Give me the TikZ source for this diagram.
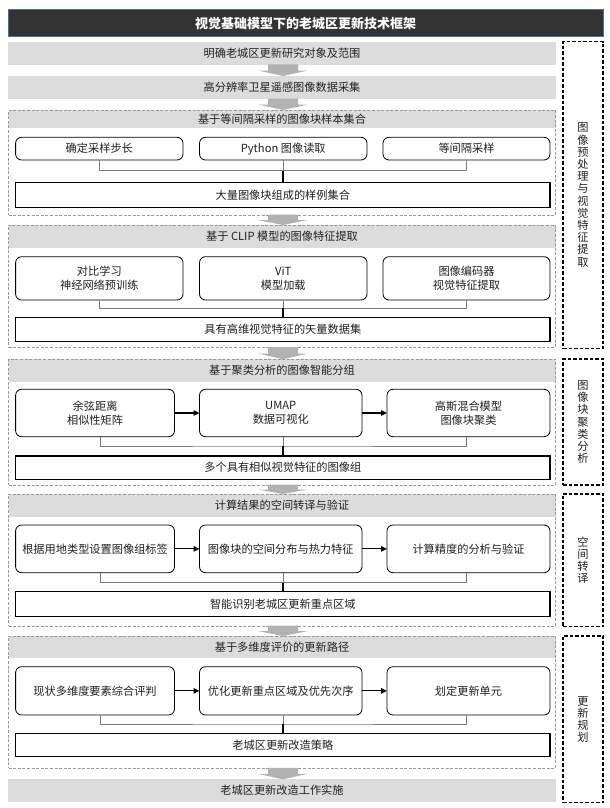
\documentclass[tikz,border=0pt]{standalone}
\usepackage{fontspec}
\setmainfont{Noto Sans CJK SC}
\usetikzlibrary{arrows.meta,calc}
\definecolor{bandgray}{HTML}{DCDCDC}
\definecolor{titlegray}{HTML}{333333}
\definecolor{titleblue}{HTML}{4E6C9C}
\definecolor{dashgray}{HTML}{9A9A9A}
\definecolor{arrowgray}{HTML}{B2B2B2}
\definecolor{linegray}{HTML}{7A7A7A}
\definecolor{txt}{HTML}{231F20}
\newcommand\garrow[2]{%
  \fill[arrowgray] let \p1=(#1.south), \p2=(#2.north) in
    (\x1+1pt-15pt,\y1+0.5pt) -- (\x1+1pt+15pt,\y1+0.5pt) --
    (\x1+1pt+15pt,{(\y1+\y2)/2}) -- (\x1+1pt+25pt,{(\y1+\y2)/2}) --
    (\x1+1pt,\y2) -- (\x1+1pt-25pt,{(\y1+\y2)/2}) --
    (\x1+1pt-15pt,{(\y1+\y2)/2}) -- cycle;}
\begin{document}
\begin{tikzpicture}[x=1pt,y=-1pt,
  every node/.style={inner sep=0pt, outer sep=0pt, anchor=north west, text=txt,
    font=\fontsize{11.2}{14}\selectfont},
  titlebar/.style={fill=titlegray, draw=titleblue, line width=1pt, text=white,
    font=\fontsize{13}{15}\selectfont\bfseries},
  bar/.style={fill=bandgray},
  band/.style={fill=bandgray},
  section/.style={draw=dashgray, line width=0.8pt, dash pattern=on 3pt off 1.6pt},
  rbox/.style={draw=black, line width=0.8pt, rounded corners=6pt, fill=white, align=center},
  bigbox/.style={draw=black, line width=1.4pt, fill=white},
  side/.style={draw=black, line width=1.1pt, dash pattern=on 3.5pt off 2pt, align=center,
    font=\fontsize{11.2}{12.2}\selectfont},
  gline/.style={draw=linegray, line width=0.8pt},
  kline/.style={draw=black, line width=1.2pt},
  harrow/.style={draw=black, line width=1.2pt, -{Triangle[length=6pt,width=5.5pt]}}
]
\useasboundingbox (0,0) rectangle (610,808);

% title and top bars
\node[titlebar, minimum width=595pt, minimum height=27pt] (title) at (8,10) {};
\node[text=white, font=\fontsize{13}{15}\selectfont\bfseries, anchor=center] (titletxt) at (title.center) {视觉基础模型下的老城区更新技术框架};
\node[bar, minimum width=548pt, minimum height=23pt] (bar1) at (8,42) {明确老城区更新研究对象及范围};
\node[bar, minimum width=548pt, minimum height=23pt] (bar2) at (8,76) {高分辨率卫星遥感图像数据采集};

% section 1
\node[band, minimum width=547pt, minimum height=18.3pt] (hd1) at (8.5,110) {基于等间隔采样的图像块样本集合};
\node[section, minimum width=547pt, minimum height=105pt] (sec1) at (8.5,110) {};
\node[rbox, minimum width=167.4pt, minimum height=22.7pt] (b11) at (15.6,137.3) {确定采样步长};
\node[rbox, minimum width=167.5pt, minimum height=22.7pt] (b12) at (199.5,137.3) {Python 图像读取};
\node[rbox, minimum width=167pt, minimum height=22.7pt] (b13) at (383,137.3) {等间隔采样};
\coordinate (j1) at (283,170.7);
\node[bigbox, minimum width=534.4pt, minimum height=24.6pt] (big1) at (15.6,182.7) {大量图像块组成的样例集合};
\draw[gline] (b11.south) |- (j1) -| (b13.south);
\draw[gline] (b12.south -| j1) -- (j1);
\draw[kline] (j1) -- (big1.north -| j1);

% section 2
\node[band, minimum width=547pt, minimum height=23.3pt] (hd2) at (8.5,225) {基于 CLIP 模型的图像特征提取};
\node[section, minimum width=547pt, minimum height=122.7pt] (sec2) at (8.5,225) {};
\node[rbox, minimum width=167.4pt, minimum height=43.3pt] (b21) at (15.6,256.7) {对比学习\\神经网络预训练};
\node[rbox, minimum width=167.5pt, minimum height=43.3pt] (b22) at (199.5,256.7) {ViT\\模型加载};
\node[rbox, minimum width=167pt, minimum height=43.3pt] (b23) at (383,256.7) {图像编码器\\视觉特征提取};
\coordinate (j2) at (283,308.3);
\node[bigbox, minimum width=534.4pt, minimum height=24.4pt] (big2) at (15.6,317.3) {具有高维视觉特征的矢量数据集};
\draw[gline] (b21.south) |- (j2) -| (b23.south);
\draw[gline] (b22.south -| j2) -- (j2);
\draw[kline] (j2) -- (big2.north -| j2);

% section 3
\node[band, minimum width=547pt, minimum height=22.4pt] (hd3) at (8.5,359.3) {基于聚类分析的图像智能分组};
\node[section, minimum width=547pt, minimum height=125.7pt] (sec3) at (8.5,359.3) {};
\node[rbox, minimum width=158.9pt, minimum height=47.4pt] (b31) at (15.6,389.3) {余弦距离\\相似性矩阵};
\node[rbox, minimum width=162.5pt, minimum height=47.4pt] (b32) at (199.5,389.3) {UMAP\\数据可视化};
\node[rbox, minimum width=163pt, minimum height=47.4pt] (b33) at (387,389.3) {高斯混合模型\\图像块聚类};
\coordinate (j3) at (283,446);
\node[bigbox, minimum width=534.4pt, minimum height=23.3pt] (big3) at (15.6,456) {多个具有相似视觉特征的图像组};
\draw[gline] ([xshift=5.5pt]b31.south) |- (j3) -| ([xshift=-2.5pt]b33.south);
\draw[gline] (b32.south -| j3) -- (j3);
\draw[kline] (j3) -- (big3.north -| j3);
\draw[harrow] (b31.east) -- (b32.west);
\draw[harrow] (b32.east) -- (b33.west);

% section 4
\node[band, minimum width=547pt, minimum height=23pt] (hd4) at (8.5,494) {计算结果的空间转译与验证};
\node[section, minimum width=547pt, minimum height=132pt] (sec4) at (8.5,494) {};
\node[rbox, minimum width=158.9pt, minimum height=47.7pt] (b41) at (15.6,525) {根据用地类型设置图像组标签};
\node[rbox, minimum width=162.5pt, minimum height=47.7pt] (b42) at (199.5,525) {图像块的空间分布与热力特征};
\node[rbox, minimum width=163pt, minimum height=47.7pt] (b43) at (387,525) {计算精度的分析与验证};
\coordinate (j4) at (283,582.7);
\node[bigbox, minimum width=534.4pt, minimum height=25pt] (big4) at (15.6,591.7) {智能识别老城区更新重点区域};
\draw[gline] ([xshift=5.5pt]b41.south) |- (j4) -| ([xshift=-2.5pt]b43.south);
\draw[gline] (b42.south -| j4) -- (j4);
\draw[kline] (j4) -- (big4.north -| j4);
\draw[harrow] (b41.east) -- (b42.west);
\draw[harrow] (b42.east) -- (b43.west);

% section 5
\node[band, minimum width=547pt, minimum height=22.3pt] (hd5) at (8.5,636) {基于多维度评价的更新路径};
\node[section, minimum width=547pt, minimum height=132.3pt] (sec5) at (8.5,636) {};
\node[rbox, minimum width=158.9pt, minimum height=48.3pt] (b51) at (15.6,666.7) {现状多维度要素综合评判};
\node[rbox, minimum width=162.5pt, minimum height=48.3pt] (b52) at (199.5,666.7) {优化更新重点区域及优先次序};
\node[rbox, minimum width=163pt, minimum height=48.3pt] (b53) at (387,666.7) {划定更新单元};
\coordinate (j5) at (283,724);
\node[bigbox, minimum width=534.4pt, minimum height=23.4pt] (big5) at (15.6,733.3) {老城区更新改造策略};
\draw[gline] ([xshift=5.5pt]b51.south) |- (j5) -| ([xshift=-2.5pt]b53.south);
\draw[gline] (b52.south -| j5) -- (j5);
\draw[kline] (j5) -- (big5.north -| j5);
\draw[harrow] (b51.east) -- (b52.west);
\draw[harrow] (b52.east) -- (b53.west);

\node[bar, minimum width=548pt, minimum height=22.4pt] (bar3) at (8,779.3) {老城区更新改造工作实施};

% block arrows
\garrow{bar1}{bar2}
\garrow{bar2}{sec1}
\garrow{sec1}{sec2}
\garrow{sec2}{sec3}
\garrow{sec3}{sec4}
\garrow{sec4}{sec5}
\garrow{sec5}{bar3}

% side labels
\node[side, minimum width=40pt, minimum height=306.6pt] (sd1) at (563,41.7) {图\\像\\预\\处\\理\\与\\视\\觉\\特\\征\\提\\取};
\node[side, minimum width=40pt, minimum height=126pt] (sd2) at (563,359) {图\\像\\块\\聚\\类\\分\\析};
\node[side, minimum width=40pt, minimum height=132.7pt] (sd3) at (563,494) {空\\间\\转\\译};
\node[side, minimum width=40pt, minimum height=166.7pt] (sd4) at (563,636) {更\\新\\规\\划};
\end{tikzpicture}
\end{document}
